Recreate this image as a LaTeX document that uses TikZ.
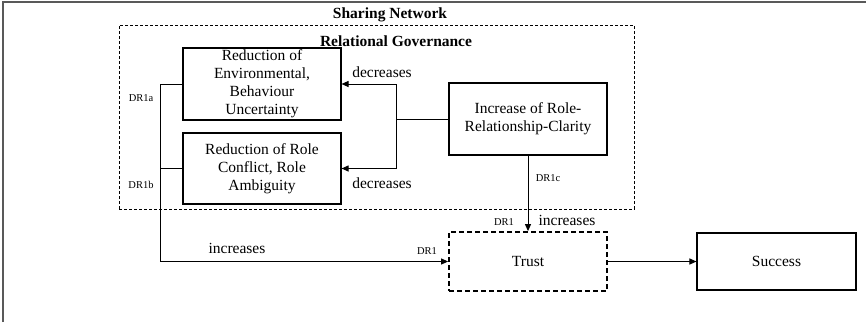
\documentclass[tikz,border=0pt]{standalone}
\usepackage{fontspec}
\setmainfont{Liberation Serif}
\usetikzlibrary{arrows.meta}
\begin{document}
\begin{tikzpicture}[x=1pt,y=-1pt,
  every node/.style={font=\fontsize{15.5}{18}\selectfont},
  boxnode/.style={draw, line width=1.1pt, inner sep=0pt, align=center, minimum width=158pt},
  trustnode/.style={draw, line width=1.8pt, dash pattern=on 5pt off 3pt, inner sep=0pt, align=center, minimum width=158pt, minimum height=59pt},
  sharebox/.style={draw, line width=0.8pt, dash pattern=on 3pt off 2pt, inner sep=0pt},
  title/.style={font=\fontsize{15.5}{18}\selectfont\bfseries},
  drlabel/.style={font=\fontsize{10.5}{12}\selectfont, inner sep=0pt},
  lbl/.style={inner sep=0pt},
  conn/.style={line width=1pt},
  arr/.style={conn, -{Triangle[length=7pt,width=6pt]}}
]
\useasboundingbox (0,0) rectangle (866,322);
\draw[line width=1.3pt, black!65] (3,322) -- (3,2) -- (866,2);

\node[sharebox, minimum width=515pt, minimum height=184pt] (SN) at (376.5,117) {};
\node[title] (snlabel) at (390,15) {Sharing Network};
\node[title] (rglabel) at (396,41) {Relational Governance};

\node[boxnode, minimum height=72pt] (A) at (262,84) {Reduction of\\Environmental,\\Behaviour\\Uncertainty};
\node[boxnode, minimum height=71pt] (B) at (262,168.5) {Reduction of Role\\Conflict, Role\\Ambiguity};
\node[boxnode, minimum height=72pt] (C) at (528,119) {Increase of Role-\\Relationship-Clarity};
\node[trustnode] (T) at (528,261.5) {Trust};
\node[boxnode, minimum width=159pt, minimum height=57pt] (S) at (776.5,261.5) {Success};

\coordinate (jx) at (396,119);
\coordinate (lx) at (160,261.5);

\draw[conn] (C.west) -- (jx);
\draw[arr] (jx) |- (A.east);
\draw[arr] (jx) |- (B.east);
\draw[arr] (A.west) -| (lx) -- (T.west);
\draw[conn] (B.west) -- (B.west -| lx);
\draw[arr] (C.south) -- (T.north);
\draw[arr] (T.east) -- (S.west);

\node[lbl] (d1) at (382,72) {decreases};
\node[lbl] (d2) at (382,183) {decreases};
\node[lbl] (i1) at (237,248) {increases};
\node[lbl] (i2) at (567,220) {increases};
\node[drlabel] (dr1a) at (141,98) {DR1a};
\node[drlabel] (dr1b) at (141,185) {DR1b};
\node[drlabel] (dr1l) at (427,251) {DR1};
\node[drlabel] (dr1c) at (548,178) {DR1c};
\node[drlabel] (dr1t) at (504,222) {DR1};
\end{tikzpicture}
\end{document}
